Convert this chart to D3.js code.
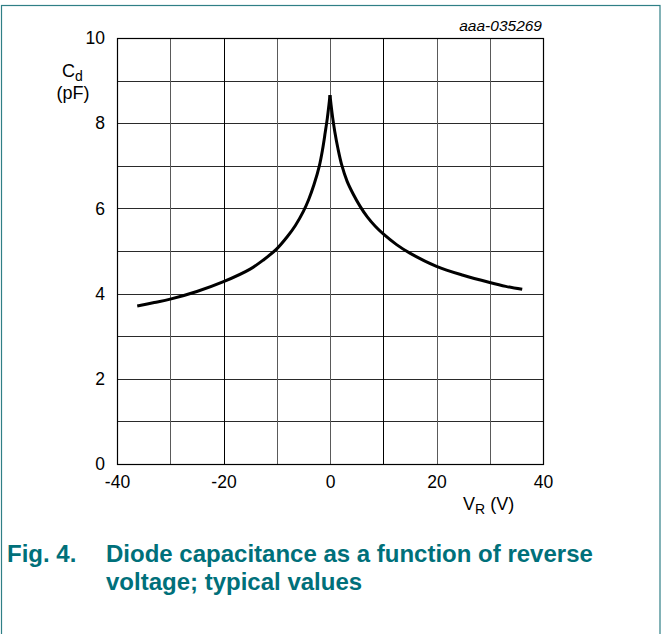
<!DOCTYPE html>
<html>
<head>
<meta charset="utf-8">
<script src="https://cdn.jsdelivr.net/npm/d3@7"></script>
<style>
  html, body { margin: 0; padding: 0; background: #fff; }
  svg { display: block; }
  text { font-family: "Liberation Sans", Arial, sans-serif; }
</style>
</head>
<body>
<svg id="chart" width="662" height="634"></svg>
<script>
// ---- data ----
const xTicks = [-40, -20, 0, 20, 40];
const yTicks = [0, 2, 4, 6, 8, 10];
const xGrid = [-30, -20, -10, 0, 10, 20, 30];
const yGrid = [1, 2, 3, 4, 5, 6, 7, 8, 9];
// left branch (negative VR) up to the peak
const leftV = [-36.2, -33, -30, -25, -20, -15, -12.5, -10, -8, -6.5, -5, -4, -3, -2, -1.4, -0.9, -0.5, -0.2, 0];
const leftC = [3.71, 3.79, 3.87, 4.05, 4.28, 4.575, 4.79, 5.05, 5.34, 5.60, 5.93, 6.21, 6.56, 7.00, 7.38, 7.78, 8.12, 8.43, 8.66];
// right branch from the peak
const rightV = [0, 0.2, 0.5, 0.9, 1.5, 2.2, 3.2, 4.3, 5.6, 7, 8.5, 10, 12.5, 15, 20, 25, 30, 33, 36.1];
const rightC = [8.66, 8.43, 8.13, 7.80, 7.40, 7.02, 6.64, 6.35, 6.06, 5.80, 5.58, 5.40, 5.15, 4.95, 4.64, 4.43, 4.26, 4.17, 4.10];

const figId = "aaa-035269";
const captionNum = "Fig. 4.";
const captionLines = ["Diode capacitance as a function of reverse", "voltage; typical values"];

(function () {
const svg = d3.select("#chart");
const pL = 117, pR = 543, pT = 38, pB = 464;
const x = d3.scaleLinear().domain([-40, 40]).range([pL, pR]);
const y = d3.scaleLinear().domain([0, 10]).range([pB, pT]);
const teal = "#00707a";
const fmt = d => String(d);

// outer frame
svg.append("rect").attr("x", 1.5).attr("y", 5.5).attr("width", 658.5).attr("height", 640)
  .attr("fill", "none").attr("stroke", "#2f7f86").attr("stroke-width", 1.2);

// grid
const g = svg.append("g");
g.selectAll("line.hy").data(yGrid).join("line")
  .attr("y1", d => Math.round(y(d)) + 0.5).attr("y2", d => Math.round(y(d)) + 0.5)
  .attr("x1", pL).attr("x2", pR)
  .attr("stroke", "#2a2a2a").attr("stroke-width", 1);
g.selectAll("line.vx").data(xGrid).join("line")
  .attr("x1", d => Math.round(x(d)) + 0.5).attr("x2", d => Math.round(x(d)) + 0.5)
  .attr("y1", pT).attr("y2", pB)
  .attr("stroke", d => (d === -20 || d === 10) ? "#000" : "#5a5a5a").attr("stroke-width", 1);
// plot border
g.append("rect").attr("x", pL + 0.5).attr("y", pT + 0.5)
  .attr("width", pR - pL).attr("height", pB - pT)
  .attr("fill", "none").attr("stroke", "#000").attr("stroke-width", 1.2);

// tick labels via d3 axes (no domain / no tick lines)
const xAxis = d3.axisBottom(x).tickValues(xTicks).tickSize(0).tickPadding(12).tickFormat(fmt);
const xa = svg.append("g").attr("transform", `translate(0,${pB})`).call(xAxis);
xa.select(".domain").remove();
xa.selectAll("text").attr("font-size", 17.5).attr("fill", "#000")
  .attr("font-family", "'Liberation Sans', Arial, sans-serif").attr("dy", "0.71em");

const yAxis = d3.axisLeft(y).tickValues(yTicks).tickSize(0).tickPadding(12).tickFormat(fmt);
const ya = svg.append("g").attr("transform", `translate(${pL},0)`).call(yAxis);
ya.select(".domain").remove();
ya.selectAll("text").attr("font-size", 17.5).attr("fill", "#000")
  .attr("font-family", "'Liberation Sans', Arial, sans-serif");

// curve (two branches meeting at the cusp)
const line = d3.line().x(d => x(d[0])).y(d => y(d[1])).curve(d3.curveCatmullRom.alpha(0.5));
const leftPts = leftV.map((v, i) => [v, leftC[i]]);
const rightPts = rightV.map((v, i) => [v, rightC[i]]);
[leftPts, rightPts].forEach(pts => {
  svg.append("path").attr("d", line(pts)).attr("fill", "none")
    .attr("stroke", "#000").attr("stroke-width", 3).attr("stroke-linecap", "butt");
});

// y-axis title
const yt = svg.append("text").attr("x", 62).attr("y", 77).attr("font-size", 18).attr("fill", "#000");
yt.append("tspan").text("C");
yt.append("tspan").text("d").attr("font-size", 14).attr("dy", 4);
svg.append("text").attr("x", 73).attr("y", 99).attr("text-anchor", "middle")
  .attr("font-size", 18).attr("fill", "#000").text("(pF)");

// x-axis title
const xt = svg.append("text").attr("x", 463).attr("y", 510).attr("font-size", 18).attr("fill", "#000");
xt.append("tspan").text("V");
xt.append("tspan").text("R").attr("font-size", 14).attr("dy", 4);
xt.append("tspan").text(" (V)").attr("dy", -4);

// figure id
svg.append("text").attr("x", 542).attr("y", 31).attr("text-anchor", "end")
  .attr("font-size", 15.5).attr("font-style", "italic").attr("fill", "#000").text(figId);

// caption
svg.append("text").attr("x", 7).attr("y", 562).attr("font-size", 24).attr("font-weight", "bold")
  .attr("fill", teal).text(captionNum);
captionLines.forEach((t, i) => {
  svg.append("text").attr("x", 106).attr("y", 562 + i * 28).attr("font-size", 24)
    .attr("font-weight", "bold").attr("fill", teal).text(t);
});
})();
</script>
</body>
</html>
